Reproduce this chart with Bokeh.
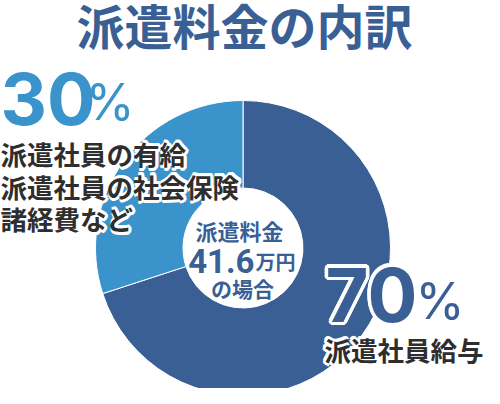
import math
from bokeh.plotting import figure
from bokeh.models import Range1d, ColumnDataSource
from bokeh.core.properties import value
from bokeh.embed import file_html
from bokeh.resources import INLINE

# ---- data ----
categories = ["派遣社員給与", "派遣社員の有給・社会保険・諸経費など"]
shares = [70, 30]
colors = ["#395f95", "#3b93cc"]
title_text = "派遣料金の内訳"
center_lines = ["派遣料金", "41.6", "万円", "の場合"]
label_30_lines = ["派遣社員の有給", "派遣社員の社会保険", "諸経費など"]
label_70_lines = ["派遣社員給与"]

W, H = 484, 388
OFF = 8
def Y(py):
    return 404 - py

p = figure(width=W, height=H, output_backend="svg", toolbar_location=None,
           x_range=Range1d(OFF, 500 - OFF), y_range=Range1d(OFF, 404 - OFF),
           min_border=0, outline_line_color=None)
p.axis.visible = False
p.grid.visible = False
p.background_fill_color = "white"
p.border_fill_color = "white"

# ---- donut ----
cx, cy = 250.5, Y(255.5)
light_span = shares[1] / sum(shares) * 2 * math.pi
top = math.pi / 2
starts = [top + light_span, top]
ends = [top + 2 * math.pi, top + light_span]
src = ColumnDataSource(dict(x=[cx, cx], y=[cy, cy], s=starts, e=ends, c=colors, name=categories))
p.annular_wedge(x="x", y="y", inner_radius=60, outer_radius=147.5, start_angle="s", end_angle="e",
                fill_color="c", line_color="white", line_width=1, source=src)

JP = value("Noto Sans CJK JP")
NUM = value("Inter")
NUM2 = value("Roboto")
DARK = "#395f95"
LIGHT = "#3b93cc"
INK = "#2e2e2e"

def halo_text(x, y, txt, size, color, font, style="normal", align="left", baseline="middle",
              r=3.0, skip=None):
    n = 16
    for k in range(n):
        a = 2 * math.pi * k / n
        dx, dy = r * math.cos(a), r * math.sin(a)
        if skip == "left" and dx < -0.01:
            continue
        if skip == "right" and dx > 0.01:
            continue
        p.text(x=[x], y=[y], text=[txt], text_font=font, text_font_size=size, text_font_style=style,
               text_color="white", text_align=align, text_baseline=baseline,
               x_offset=dx, y_offset=dy)
    p.text(x=[x], y=[y], text=[txt], text_font=font, text_font_size=size, text_font_style=style,
           text_color=color, text_align=align, text_baseline=baseline)

def plain_text(x, y, txt, size, color, font, style="normal", align="left", baseline="middle"):
    p.text(x=[x], y=[y], text=[txt], text_font=font, text_font_size=size, text_font_style=style,
           text_color=color, text_align=align, text_baseline=baseline)

# title
plain_text(252, Y(31), title_text, "48px", DARK, JP, "bold", "center")

# 30% label
plain_text(8, Y(106), f"{shares[1]}", "72px", LIGHT, NUM, "bold", "left")
plain_text(93, Y(109), "%", "50px", LIGHT, NUM, "normal", "left")
for i, ln in enumerate(label_30_lines):
    halo_text(8, Y(161 + 32.5 * i), ln, "26.5px", INK, JP, "bold", skip="left")

# 70% label
halo_text(333, Y(302), f"{shares[0]}", "74px", DARK, NUM, "bold", "left", r=3.5)
plain_text(423, Y(308), "%", "50px", DARK, NUM, "normal", "left")
for i, ln in enumerate(label_70_lines):
    halo_text(332, Y(356.5), ln, "26.5px", INK, JP, "bold", skip="right")

# center text
plain_text(247, Y(237), center_lines[0], "22px", DARK, JP, "bold", "center")
plain_text(262, Y(268.5), center_lines[1], "33px", DARK, NUM2, "bold", "right")
plain_text(263, Y(269), center_lines[2], "20px", DARK, JP, "bold", "left")
plain_text(250, Y(295), center_lines[3], "21px", DARK, JP, "bold", "center")

open("out.html", "w").write(file_html(p, INLINE))
